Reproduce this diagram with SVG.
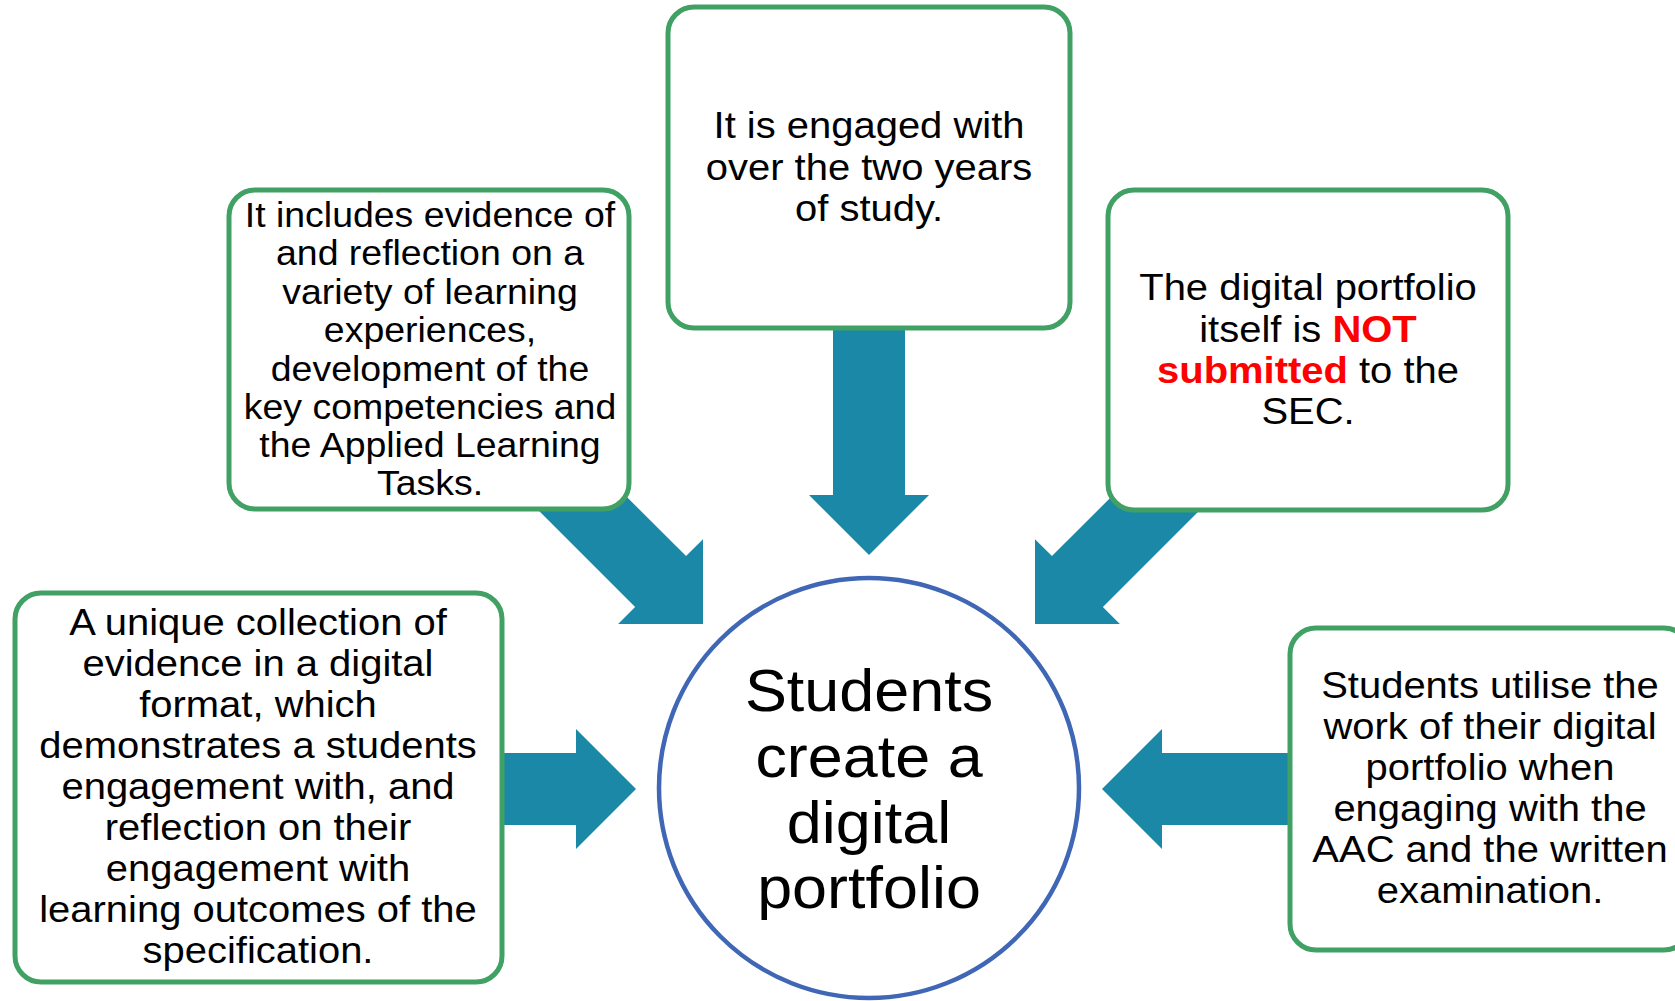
<svg xmlns="http://www.w3.org/2000/svg" xmlns:xlink="http://www.w3.org/1999/xlink" width="1675" height="1001" viewBox="0 0 1675 1001">
<style>
.box{fill:#fff;stroke:#41A164;stroke-width:5}
.hub{fill:#fff;stroke:#3F67B5;stroke-width:4.5}
.arr{fill:#1B88A8}
text{font-family:"Liberation Sans",Arial,Helvetica,sans-serif;fill:#000;text-anchor:middle}
.t37{font-size:37px}
.t35{font-size:35px}
.t59{font-size:59px}
.red{fill:#FF0000;font-weight:bold}
</style>
<defs>
<polygon id="arrow" points="-260,-36 -60,-36 -60,-60 0,0 -60,60 -60,36 -260,36"/>
</defs>
<rect width="1675" height="1001" fill="#fff"/>
<g id="connectors" class="arr">
<use xlink:href="#arrow" href="#arrow" transform="translate(869,555) rotate(90)"/>
<use xlink:href="#arrow" href="#arrow" transform="translate(703,624) rotate(45)"/>
<use xlink:href="#arrow" href="#arrow" transform="translate(1035,624) rotate(135)"/>
<use xlink:href="#arrow" href="#arrow" transform="translate(636,789)"/>
<use xlink:href="#arrow" href="#arrow" transform="translate(1102,789) rotate(180)"/>
</g>
<g id="node-top">
<rect class="box" x="668" y="7" width="402" height="321" rx="26"/>
<g transform="translate(869,0) scale(1.08,1)">
<text class="t37"><tspan x="0" y="138">It is engaged with</tspan><tspan x="0" y="180">over the two years</tspan><tspan x="0" y="221">of study.</tspan></text>
</g>
</g>
<g id="node-top-left">
<rect class="box" x="229" y="190" width="400" height="319" rx="26"/>
<g transform="translate(430,0) scale(1.07,1)">
<text class="t35"><tspan x="0" y="227">It includes evidence of</tspan><tspan x="0" y="265">and reflection on a</tspan><tspan x="0" y="304">variety of learning</tspan><tspan x="0" y="342">experiences,</tspan><tspan x="0" y="381">development of the</tspan><tspan x="0" y="419">key competencies and</tspan><tspan x="0" y="457">the Applied Learning</tspan><tspan x="0" y="495">Tasks.</tspan></text>
</g>
</g>
<g id="node-top-right">
<rect class="box" x="1108" y="190" width="400" height="320" rx="26"/>
<g transform="translate(1308,0) scale(1.08,1)">
<text class="t37"><tspan x="0" y="300">The digital portfolio</tspan><tspan x="0" y="342">itself is <tspan class="red">NOT</tspan></tspan><tspan x="0" y="383"><tspan class="red">submitted</tspan> to the</tspan><tspan x="0" y="424">SEC.</tspan></text>
</g>
</g>
<g id="node-bottom-left">
<rect class="box" x="15" y="593" width="487" height="389" rx="26"/>
<g transform="translate(258,0) scale(1.08,1)">
<text class="t37"><tspan x="0" y="635">A unique collection of</tspan><tspan x="0" y="676">evidence in a digital</tspan><tspan x="0" y="717">format, which</tspan><tspan x="0" y="758">demonstrates a students</tspan><tspan x="0" y="799">engagement with, and</tspan><tspan x="0" y="840">reflection on their</tspan><tspan x="0" y="881">engagement with</tspan><tspan x="0" y="922">learning outcomes of the</tspan><tspan x="0" y="963">specification.</tspan></text>
</g>
</g>
<g id="node-bottom-right">
<rect class="box" x="1290" y="628" width="400" height="322" rx="26"/>
<g transform="translate(1490,0) scale(1.08,1)">
<text class="t37"><tspan x="0" y="698">Students utilise the</tspan><tspan x="0" y="739">work of their digital</tspan><tspan x="0" y="780">portfolio when</tspan><tspan x="0" y="821">engaging with the</tspan><tspan x="0" y="862">AAC and the written</tspan><tspan x="0" y="903">examination.</tspan></text>
</g>
</g>
<g id="node-center">
<circle class="hub" cx="869" cy="788" r="210"/>
<g transform="translate(869,0) scale(1.066,1)">
<text class="t59"><tspan x="0" y="711">Students</tspan><tspan x="0" y="777">create a</tspan><tspan x="0" y="843">digital</tspan><tspan x="0" y="908">portfolio</tspan></text>
</g>
</g>
</svg>
